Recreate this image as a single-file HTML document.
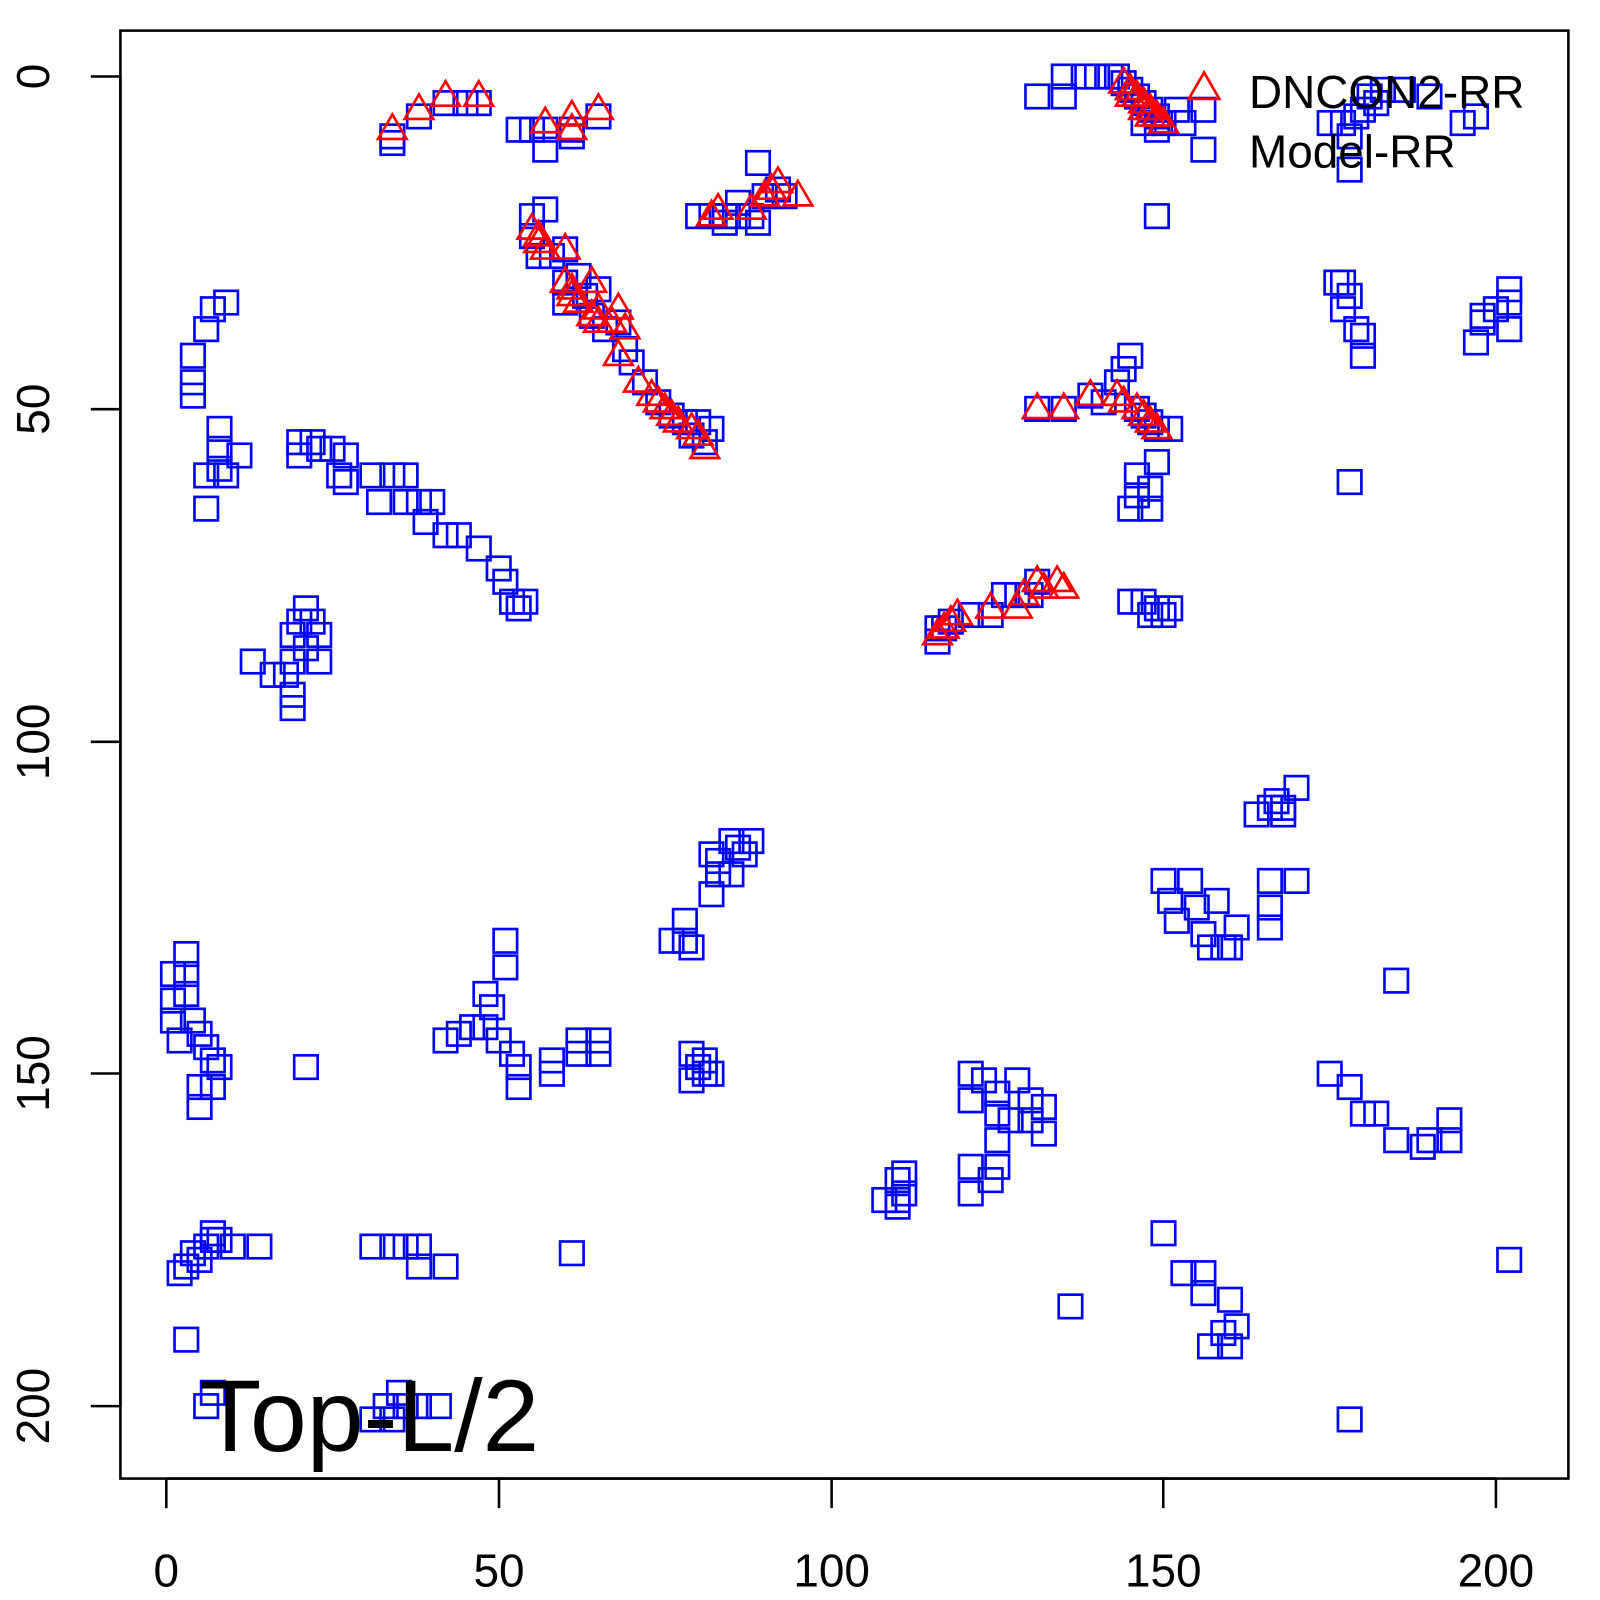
<!DOCTYPE html>
<html><head><meta charset="utf-8"><style>html,body{margin:0;padding:0;background:#fff}svg{display:block}</style></head>
<body>
<svg id="s" width="1600" height="1600" viewBox="0 0 1568 1568" xmlns="http://www.w3.org/2000/svg" font-family="Liberation Sans, sans-serif">
<rect x="0" y="0" width="1568" height="1568" fill="#fff"/>
<g id="pts"></g>
<rect x="118" y="30" width="1419" height="1419" fill="none" stroke="#000" stroke-width="2.5"/>
<g stroke="#000" stroke-width="2.5">
<line x1="163" y1="1449" x2="1466" y2="1449"/>
<line x1="163" y1="1449" x2="163" y2="1478"/><line x1="489" y1="1449" x2="489" y2="1478"/><line x1="815" y1="1449" x2="815" y2="1478"/><line x1="1140" y1="1449" x2="1140" y2="1478"/><line x1="1466" y1="1449" x2="1466" y2="1478"/>
<line x1="118" y1="75" x2="118" y2="1378"/>
<line x1="89" y1="75" x2="118" y2="75"/><line x1="89" y1="401" x2="118" y2="401"/><line x1="89" y1="727" x2="118" y2="727"/><line x1="89" y1="1052" x2="118" y2="1052"/><line x1="89" y1="1378" x2="118" y2="1378"/>
</g>
<g font-size="45" text-anchor="middle" fill="#000">
<text x="163" y="1555">0</text><text x="489" y="1555">50</text><text x="815" y="1555">100</text><text x="1140" y="1555">150</text><text x="1466" y="1555">200</text>
<text transform="translate(48,75) rotate(-90)">0</text>
<text transform="translate(48,401) rotate(-90)">50</text>
<text transform="translate(48,727) rotate(-90)">100</text>
<text transform="translate(48,1052) rotate(-90)">150</text>
<text transform="translate(48,1378) rotate(-90)">200</text>
</g>
<polygon points="1180,71 1195,97 1165,97" fill="none" stroke="#f00" stroke-width="2.6"/>
<text x="1224" y="106" font-size="45" fill="#000">DNCON2-RR</text>
<text x="1224" y="164" font-size="45" fill="#000">Model-RR</text>
<text x="195" y="1422" font-size="100" fill="#000">Top-L/2</text>
</svg>
<script>
var sq=[[34,9],[34,10],[38,6],[42,4],[47,4],[45,4],[53,8],[55,8],[57,8],[57,11],[61,8],[61,9],[65,6],
[131,3],[135,0],[135,3],[138,0],[140,0],[142,0],[143,0],[144,1],[145,2],[146,3],[147,4],[148,5],[149,6],[150,7],[147,7],[149,8],[152,5],[153,7],[156,5],[156,11],[149,21],
[175,7],[177,7],[178,9],[178,14],[180,5],[181,3],[183,2],[186,2],[190,3],[195,7],[197,6],[179,6],[182,4],
[89,13],[80,21],[82,21],[84,21],[86,19],[88,21],[89,22],[90,18],[92,17],[93,18],[84,22],[86,21],
[55,21],[55,24],[57,20],[56,27],[58,27],[60,26],[60,31],[60,34],[62,30],[63,33],[64,36],[65,32],[66,38],[68,37],[69,41],[70,43],[72,46],[74,49],[76,51],[78,52],[80,52],[82,53],[79,54],[81,55],
[116,85],[117,83],[118,82],[121,81],[124,81],[126,78],[128,78],[130,78],[131,76],[116,83],
[131,50],[135,50],[139,48],[141,49],[143,46],[144,44],[145,42],[146,50],[147,51],[148,52],[149,53],[151,53],[149,58],[148,62],[146,63],[145,65],[148,65],[146,60],
[145,79],[147,79],[149,80],[151,80],[148,81],[150,81],
[9,34],[7,35],[6,38],[4,42],[4,46],[4,48],[8,53],[8,56],[8,59],[11,57],[6,60],[9,60],[6,65],
[20,55],[22,55],[20,57],[23,56],[25,56],[27,57],[26,60],[27,61],[31,60],[32,64],[34,60],[36,60],[36,64],[38,64],[39,67],[40,64],[42,69],[44,69],[47,71],[50,74],[51,76],[52,79],[54,79],[53,80],
[13,88],[16,90],[18,90],[19,93],[19,95],[19,88],[19,84],[20,82],[21,80],[22,82],[21,86],[23,84],[23,88],
[170,107],[168,110],[166,110],[164,111],[167,109],[168,111],
[150,121],[151,124],[154,121],[152,127],[155,125],[156,129],[158,124],[159,131],[161,128],[157,131],[160,131],[166,121],[166,125],[170,121],[166,128],
[85,115],[82,117],[83,118],[85,120],[86,116],[87,117],[82,123],[83,120],[88,115],
[78,127],[78,130],[79,131],[76,130],
[51,130],[51,134],[48,138],[48,143],[49,140],[50,145],[46,143],[44,144],[42,145],[52,147],[53,149],[53,152],[58,148],[58,150],[62,145],[65,145],[65,147],[62,147],
[79,147],[80,149],[81,150],[82,150],[79,151],[81,148],
[1,135],[1,139],[1,142],[2,145],[3,135],[3,132],[3,138],[4,142],[5,144],[6,146],[7,148],[8,149],[7,152],[5,152],[5,155],[21,149],
[2,180],[3,179],[4,177],[5,178],[6,176],[7,175],[7,174],[8,175],[10,176],[14,176],[3,190],[7,198],[6,200],
[31,176],[34,176],[36,176],[38,176],[38,179],[42,179],[61,177],[31,202],[33,200],[34,202],[36,200],[38,200],[41,200],[35,198],
[121,150],[121,154],[123,151],[125,153],[125,156],[127,157],[128,151],[130,154],[130,157],[132,155],[132,159],[125,160],
[108,169],[110,166],[110,169],[111,165],[111,168],[110,170],[121,164],[121,168],[125,164],[124,166],
[175,150],[178,152],[180,156],[182,156],[185,160],[189,161],[190,160],[193,160],[193,157],[185,136],
[150,174],[153,180],[156,180],[156,183],[160,184],[159,189],[161,188],[160,191],[157,191],[136,185],[202,178],[178,202],[178,61],
[197,40],[198,36],[202,34],[202,38],[200,35],[202,32],[198,37],[176,31],[177,35],[179,38],[180,39],[177,31],[180,42],[178,33]];
var tr=[[34,8],[38,5],[42,3],[47,3],[57,7],[61,6],[61,8],[65,5],
[144,1],[145,2],[146,3],[147,4],[148,5],[149,6],[150,7],[145,3],[147,5],[148,6],
[82,21],[83,20],[88,20],[90,18],[91,17],[92,16],[95,18],
[55,23],[56,25],[57,26],[60,26],[60,31],[61,32],[62,34],[64,31],[64,36],[65,35],[67,37],[68,35],[69,38],[68,42],[71,46],[73,48],[74,49],[75,50],[76,51],[77,52],[79,53],[80,54],[81,56],[56,24],[61,33],[65,37],
[116,84],[117,83],[118,82],[119,81],[124,80],[128,80],[129,78],[131,76],[132,77],[134,76],[135,77],
[131,50],[135,50],[139,48],[143,48],[144,49],[146,50],[147,51],[148,52],[149,53]];
var g=document.getElementById('pts'),h='';
function X(v){return 163+6.515*v}
sq.forEach(function(p){h+='<rect x="'+(X(p[0])-11.5)+'" y="'+(X(p[1])-88-11.5)+'" width="23" height="23" fill="none" stroke="#00f" stroke-width="2.6"/>';});
tr.forEach(function(p){var x=X(p[0]),y=X(p[1])-88;h+='<polygon points="'+x+','+(y-15)+' '+(x+14)+','+(y+9)+' '+(x-14)+','+(y+9)+'" fill="none" stroke="#f00" stroke-width="2.6"/>';});
g.innerHTML=h;
</script>
</body></html>
